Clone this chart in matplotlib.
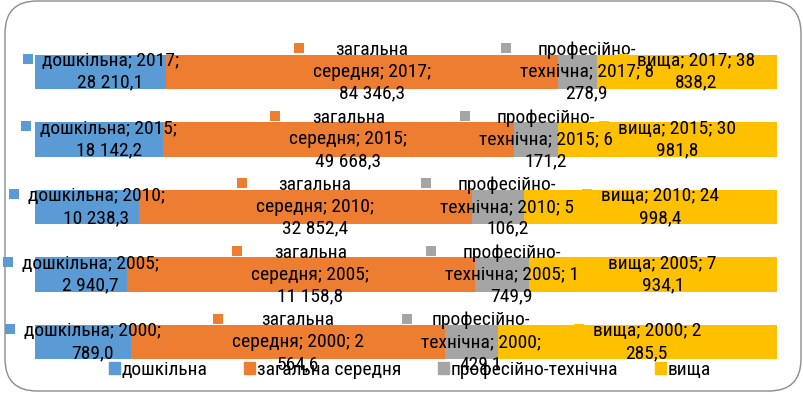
import textwrap
import matplotlib
matplotlib.use('Agg')
import matplotlib.pyplot as plt
import matplotlib.transforms as mtransforms
from matplotlib.patches import Patch, Rectangle, FancyBboxPatch
import numpy as np

# data
years = ['2000', '2005', '2010', '2015', '2017']
series = ['дошкільна', 'загальна середня', 'професійно-технічна', 'вища']
preschool = [789.0, 2940.7, 10238.3, 18142.2, 28210.1]
general = [2564.6, 11158.8, 32852.4, 49668.3, 84346.3]
vocational = [429.1, 1749.9, 5106.2, 6171.2, 8278.9]
higher = [2285.5, 7934.1, 24998.4, 30981.8, 38838.2]
colors = ['#5B9BD5', '#ED7D31', '#A5A5A5', '#FFC000']
wrap_widths = [16, 16, 17, 14]

plt.rcParams['font.family'] = ['Roboto Condensed', 'DejaVu Sans']
fs = 14

W, H = 804, 401
fig = plt.figure(figsize=(W / 100, H / 100), dpi=100)

# rounded frame
frame = FancyBboxPatch((5 / W, 10 / H), 796 / W, 390 / H,
                       boxstyle='round,pad=0,rounding_size=0.04',
                       transform=fig.transFigure, fc='none', ec='#8C8C8C', lw=1.0,
                       mutation_aspect=W / H, zorder=0)
fig.patches.append(frame)

ax = fig.add_axes([35 / W, (H - 376) / H, 742 / W, 338 / H])
ax.set_facecolor('none')

vals = np.array([preschool, general, vocational, higher])
shares = vals / vals.sum(axis=0)
y = np.arange(len(years))
left = np.zeros(len(years))
for i in range(4):
    ax.barh(y, shares[i], left=left, height=0.51, color=colors[i], label=series[i], zorder=2)
    left += shares[i]

ax.set_xlim(0, 1)
ax.set_ylim(-0.5, 4.5)
ax.axis('off')


def fmt(v):
    return f'{v:,.1f}'.replace(',', ' ').replace('.', ',')


key = 10
gap = 9
shift = mtransforms.offset_copy(ax.transData, fig=fig, x=(key + gap) / 2, y=0, units='dots')
labels = []
for j in range(len(years)):
    lft = 0
    for i in range(4):
        txt = f'{series[i]}; {years[j]}; {fmt(vals[i][j])}'
        txt = '\n'.join(textwrap.wrap(txt, wrap_widths[i]))
        t = ax.text(lft + shares[i][j] / 2, y[j], txt, transform=shift, ha='center',
                    va='center', multialignment='center', fontsize=fs,
                    linespacing=1.27, zorder=5)
        labels.append((t, colors[i]))
        lft += shares[i][j]

fig.canvas.draw()
r = fig.canvas.get_renderer()
n_lines = [t.get_text().count('\n') + 1 for t, c in labels]
inv = fig.transFigure.inverted()
for (t, c), n in zip(labels, n_lines):
    bb = t.get_window_extent(r)
    line_h = bb.height / n
    cy = bb.y1 - line_h / 2 + 3
    x0 = bb.x0 - gap - key
    (fx, fy) = inv.transform((x0, cy - key / 2))
    fig.patches.append(Rectangle((fx, fy), key / W, key / H, transform=fig.transFigure,
                                 fc=c, ec='none', zorder=6))

handles = [Patch(color=c) for c in colors]
fig.legend(handles, series, loc='center', bbox_to_anchor=(0.51, 0.077), ncol=4,
           frameon=False, fontsize=fs, handlelength=0.55, handleheight=0.55,
           handletextpad=0.1, columnspacing=1.9, borderaxespad=0)

fig.savefig('out.png', dpi=100)
